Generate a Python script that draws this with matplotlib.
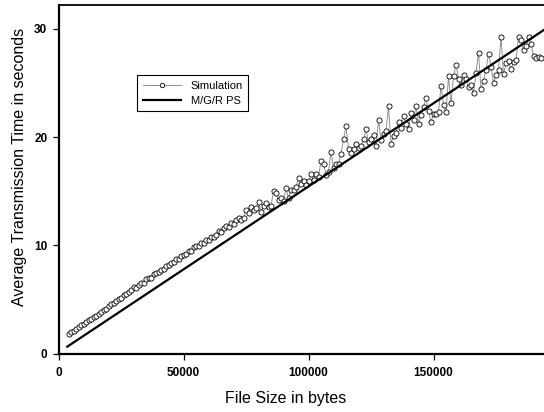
import matplotlib
matplotlib.use("Agg")
import matplotlib.pyplot as plt

plt.rcParams["font.family"] = ["Liberation Sans", "DejaVu Sans"]

# ── Data ────────────────────────────────────────────────────────────────────
# simulated file sizes in kilobytes (1000 bytes), 4 .. 193
SIZES_KB = [
    4, 5, 6, 7, 8, 9, 10, 11, 12, 13, 14, 15, 16, 17, 18, 19, 20, 21, 22, 23,
    24, 25, 26, 27, 28, 29, 30, 31, 32, 33, 34, 35, 36, 37, 38, 39, 40, 41, 42, 43,
    44, 45, 46, 47, 48, 49, 50, 51, 52, 53, 54, 55, 56, 57, 58, 59, 60, 61, 62, 63,
    64, 65, 66, 67, 68, 69, 70, 71, 72, 73, 74, 75, 76, 77, 78, 79, 80, 81, 82, 83,
    84, 85, 86, 87, 88, 89, 90, 91, 92, 93, 94, 95, 96, 97, 98, 99, 100, 101, 102, 103,
    104, 105, 106, 107, 108, 109, 110, 111, 112, 113, 114, 115, 116, 117, 118, 119, 120, 121, 122, 123,
    124, 125, 126, 127, 128, 129, 130, 131, 132, 133, 134, 135, 136, 137, 138, 139, 140, 141, 142, 143,
    144, 145, 146, 147, 148, 149, 150, 151, 152, 153, 154, 155, 156, 157, 158, 159, 160, 161, 162, 163,
    164, 165, 166, 167, 168, 169, 170, 171, 172, 173, 174, 175, 176, 177, 178, 179, 180, 181, 182, 183,
    184, 185, 186, 187, 188, 189, 190, 191, 192, 193,
]
SIM_TIME = [
    1.80, 1.95, 2.10, 2.30, 2.42, 2.60, 2.72, 2.90, 3.05, 3.15,
    3.40, 3.50, 3.62, 3.85, 4.05, 4.10, 4.35, 4.55, 4.62, 4.85,
    5.05, 5.15, 5.45, 5.50, 5.70, 5.85, 6.10, 6.05, 6.35, 6.55,
    6.50, 6.85, 6.95, 7.00, 7.35, 7.40, 7.55, 7.75, 7.80, 8.10,
    8.15, 8.35, 8.45, 8.70, 8.75, 9.00, 9.10, 9.20, 9.50, 9.45,
    9.80, 9.90, 9.95, 10.25, 10.20, 10.50, 10.45, 10.80, 10.75, 10.95,
    11.30, 11.20, 11.55, 11.75, 11.70, 12.10, 12.00, 12.30, 12.50, 12.30,
    12.55, 13.25, 12.95, 13.55, 13.25, 13.40, 14.00, 13.10, 13.60, 13.90,
    13.55, 13.60, 15.00, 14.80, 14.20, 14.40, 14.10, 15.25, 14.40, 15.10,
    15.10, 15.40, 16.20, 15.65, 15.90, 15.60, 15.90, 16.55, 16.00, 16.60,
    16.30, 17.80, 17.55, 16.50, 16.80, 18.60, 17.10, 17.50, 17.55, 18.40,
    19.80, 21.00, 18.85, 18.50, 18.85, 19.40, 18.95, 19.15, 19.80, 20.70,
    19.55, 19.85, 20.20, 19.15, 21.60, 19.70, 20.30, 20.60, 22.85, 19.40,
    20.10, 20.40, 21.40, 20.80, 21.90, 21.25, 20.70, 22.20, 21.60, 22.90,
    21.25, 22.00, 22.80, 23.60, 22.40, 21.40, 22.10, 22.10, 22.30, 24.70,
    23.00, 22.30, 25.60, 23.10, 25.60, 26.70, 25.40, 24.80, 25.70, 25.40,
    24.60, 24.85, 24.10, 25.90, 27.80, 24.40, 25.20, 26.20, 27.70, 26.50,
    25.00, 25.70, 26.20, 29.25, 25.80, 26.80, 27.00, 26.30, 26.90, 27.10,
    29.20, 28.95, 28.00, 28.40, 29.20, 28.60, 27.50, 27.30, 27.40, 27.30,
]

# analytic M/G/R processor-sharing model (straight line)
MODEL_BYTES = [3500, 50000, 100000, 150000, 200000]
MODEL_TIME = [0.63, 7.77, 15.44, 23.12, 30.79]

X_TICKS = [0, 50000, 100000, 150000]
Y_TICKS = [0, 10, 20, 30]

sizes = [k * 1000 for k in SIZES_KB]

# ── Figure ──────────────────────────────────────────────────────────────────
W, H = 544, 412
AX_L, AX_B, AX_W, AX_H = 58.5, 353.5, 500.0, 348.5   # pixels
fig = plt.figure(figsize=(W / 100, H / 100), dpi=100)
ax = fig.add_axes([AX_L / W, (H - AX_B) / H, AX_W / W, AX_H / H])

ax.plot(sizes, SIM_TIME, color="#909090", lw=0.7, marker="o", ms=3.7,
        mfc="white", mec="black", mew=0.6, label="Simulation", zorder=3)
ax.plot(MODEL_BYTES, MODEL_TIME, color="black", lw=1.6,
        label="M/G/R PS", zorder=4)

ax.set_xlim(0, 200000)
ax.set_ylim(0, 32.2)
ax.set_xticks(X_TICKS)
ax.set_yticks(Y_TICKS)
ax.tick_params(direction="out", length=4, width=0.9, labelsize=8.5)
ax.tick_params(axis="x", pad=5.5)
ax.tick_params(axis="y", pad=4)
for lbl in ax.get_xticklabels() + ax.get_yticklabels():
    lbl.set_fontweight("bold")

for side in ["left", "bottom"]:
    ax.spines[side].set_linewidth(1.6)
ax.spines["top"].set_linewidth(1.3)
ax.spines["right"].set_linewidth(1.3)

ax.set_xlabel("File Size in bytes", fontsize=11.5)
ax.set_ylabel("Average Transmission Time in seconds", fontsize=11.5)
ax.xaxis.set_label_coords((286 - AX_L) / AX_W, -(391 - AX_B) / AX_H)
ax.yaxis.set_label_coords(-(AX_L - 27) / AX_W, (AX_B - 167) / AX_H)

leg = ax.legend(loc="upper left", bbox_to_anchor=(0.1576, 0.799),
                borderaxespad=0, fontsize=8, numpoints=1, handlelength=3.4,
                fancybox=False, framealpha=1, edgecolor="black",
                borderpad=0.5, labelspacing=0.45, handletextpad=0.9)
leg.get_frame().set_linewidth(0.8)
leg.legend_handles[0].set_markersize(3.2)

fig.savefig("out.png", dpi=100)
